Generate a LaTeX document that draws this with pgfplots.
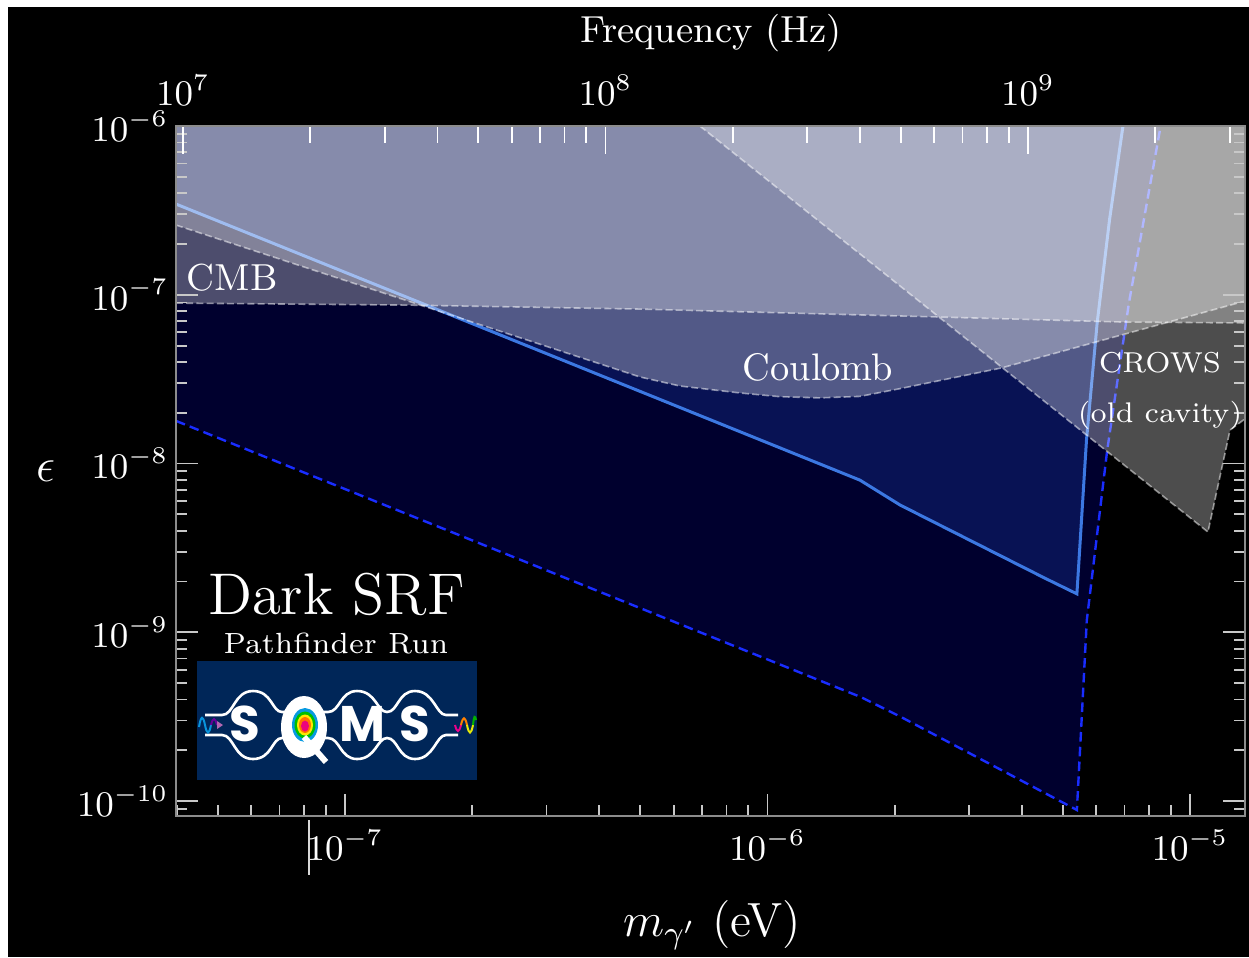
\documentclass[border=0pt]{standalone}
\usepackage{fontspec}
\usepackage{pgfplots}
\pgfplotsset{compat=1.18}
\newfontfamily\logofont{Poppins}
\definecolor{navyproj}{RGB}{0,0,46}
\definecolor{bluereg}{RGB}{8,18,84}
\definecolor{solidline}{RGB}{60,120,226}
\definecolor{dashblue}{RGB}{25,45,255}
\definecolor{logobg}{RGB}{0,38,88}
\definecolor{tickgray}{RGB}{200,200,200}
\definecolor{framegray}{RGB}{140,140,140}
\begin{document}
\begin{tikzpicture}
\fill[white] (0,0) rectangle (312.25pt,239.25pt);
\fill[black] (2pt,0) rectangle (312.25pt,237.5pt);
\begin{axis}[
  at={(44pt,35.25pt)}, anchor=south west,
  scale only axis, width=267.25pt, height=172.5pt,
  xmode=log, ymode=log,
  xmin=3.981e-8, xmax=1.3497e-5, ymin=8.15e-11, ymax=1e-6,
  axis on top,
  axis line style={draw=framegray, line width=0.5pt},
  xtick pos=left, ytick pos=both, yticklabel pos=left,
  tick align=inside,
  major tick length=5.5pt, minor tick length=2.8pt,
  tick style={draw=tickgray, line width=0.45pt},
  ticklabel style={font=\fontsize{9}{11}\selectfont, text=white},
  yticklabel style={xshift=1.6pt},
]
% projected sensitivity region (dashed boundary)
\addplot[fill=navyproj, draw=none] coordinates {
  (3.981e-8,1.79e-8) (1.664e-6,4.13e-10) (2.07e-6,3.15e-10)
  (5.40e-6,8.85e-11) (5.70e-6,1.18e-9) (6.37e-6,1.2e-8) (7.17e-6,8.93e-8)
  (8.49e-6,9.47e-7) (8.55e-6,1.1e-6) (3.5e-8,1.1e-6) } -- cycle;
% excluded region (solid boundary)
\addplot[fill=bluereg, draw=none] coordinates {
  (3.981e-8,3.45e-7) (1.655e-6,7.98e-9) (2.06e-6,5.68e-9) (4.54e-6,2.09e-9)
  (5.40e-6,1.69e-9) (5.69e-6,1.38e-8) (6.03e-6,6.81e-8) (6.45e-6,2.77e-7)
  (6.94e-6,1e-6) (6.96e-6,1.1e-6) (3.5e-8,1.1e-6) } -- cycle;
\addplot[draw=solidline, line width=0.75pt] coordinates {
  (3.981e-8,3.45e-7) (1.655e-6,7.98e-9) (2.06e-6,5.68e-9) (4.54e-6,2.09e-9)
  (5.40e-6,1.69e-9) (5.69e-6,1.38e-8) (6.03e-6,6.81e-8) (6.45e-6,2.77e-7)
  (6.94e-6,1e-6) };
\addplot[draw=dashblue, line width=0.6pt, dash pattern=on 2.4pt off 1.3pt] coordinates {
  (3.981e-8,1.79e-8) (1.664e-6,4.13e-10) (2.07e-6,3.15e-10)
  (5.40e-6,8.85e-11) (5.70e-6,1.18e-9) (6.37e-6,1.2e-8) (7.17e-6,8.93e-8)
  (8.49e-6,9.47e-7) (8.55e-6,1e-6) };
% CMB
\addplot[fill=white, fill opacity=0.3, draw=none] coordinates {
  (3.981e-8,8.93e-8) (1.41e-7,8.69e-8) (4.99e-7,8.23e-8) (2.58e-6,7.38e-8)
  (6.87e-6,6.90e-8) (1.3497e-5,6.81e-8) (1.3497e-5,1e-6) (3.981e-8,1e-6) } -- cycle;
\addplot[draw=white, draw opacity=0.5, line width=0.4pt, dash pattern=on 1.75pt off 0.8pt] coordinates {
  (3.981e-8,8.93e-8) (1.41e-7,8.69e-8) (4.99e-7,8.23e-8) (2.58e-6,7.38e-8)
  (6.87e-6,6.90e-8) (1.3497e-5,6.81e-8) };
% Coulomb
\addplot[fill=white, fill opacity=0.3, draw=none] coordinates {
  (3.981e-8,2.59e-7) (4.99e-7,3.26e-8) (6.21e-7,2.88e-8) (8.61e-7,2.62e-8)
  (1.07e-6,2.49e-8) (1.33e-6,2.45e-8) (1.655e-6,2.50e-8) (2.06e-6,2.78e-8)
  (3.57e-6,3.68e-8) (1.3497e-5,9.18e-8) (1.3497e-5,1e-6) (3.981e-8,1e-6) } -- cycle;
\addplot[draw=white, draw opacity=0.5, line width=0.4pt, dash pattern=on 1.75pt off 0.8pt] coordinates {
  (3.981e-8,2.59e-7) (4.99e-7,3.26e-8) (6.21e-7,2.88e-8) (8.61e-7,2.62e-8)
  (1.07e-6,2.49e-8) (1.33e-6,2.45e-8) (1.655e-6,2.50e-8) (2.06e-6,2.78e-8)
  (3.57e-6,3.68e-8) (1.3497e-5,9.18e-8) };
% CROWS
\addplot[fill=white, fill opacity=0.3, draw=none] coordinates {
  (6.92e-7,1e-6) (1.103e-5,3.93e-9) (1.244e-5,1.58e-8) (1.3497e-5,1.84e-8)
  (1.3497e-5,1e-6) } -- cycle;
\addplot[draw=white, draw opacity=0.5, line width=0.4pt, dash pattern=on 1.75pt off 0.8pt] coordinates {
  (6.92e-7,1e-6) (1.103e-5,3.93e-9) (1.244e-5,1.58e-8) (1.3497e-5,1.84e-8) };
\end{axis}
\begin{axis}[
  at={(44pt,35.25pt)}, anchor=south west,
  scale only axis, width=267.25pt, height=172.5pt,
  xmode=log, xmin=9.626e6, xmax=3.2636e9, ymin=0, ymax=1,
  axis x line*=top, hide y axis,
  x axis line style={draw=framegray, -},
  xtick align=inside,
  major tick length=7pt, minor tick length=4.3pt,
  tick style={draw=white, line width=0.45pt},
  xticklabel style={font=\fontsize{9}{11}\selectfont, text=white, yshift=1.6pt},
]
\addplot[draw=none] coordinates {(1e8,0.5)};
\end{axis}
\begin{scope}[shift={(0pt,239.25pt)},x=0.25pt,y=-0.25pt]
% axis titles
\node[text=white, font=\fontsize{9.4}{11}\selectfont, anchor=base, inner sep=0] at (711,42) {Frequency (Hz)};
\node[text=white, font=\fontsize{12}{14}\selectfont, anchor=base, inner sep=0] at (712,936) {$m_{\gamma'}$ (eV)};
\node[text=white, font=\fontsize{12}{14}\selectfont, inner sep=0] at (46,471) {$\epsilon$};
\draw[white!85!black, line width=0.3pt] (309,820) -- (309,875);
% region labels
\node[text=white, font=\fontsize{9.4}{11}\selectfont, anchor=base west, inner sep=0] at (186,290) {CMB};
\node[text=white, font=\fontsize{9.6}{11}\selectfont, anchor=base west, inner sep=0] at (742,380) {Coulomb};
\node[text=white, font=\fontsize{7.2}{9}\selectfont, anchor=base, inner sep=0] at (1160,372) {CROWS};
\node[text=white, font=\fontsize{7.1}{9}\selectfont, anchor=base, inner sep=0] at (1160,422) {(old cavity)};
\node[text=white, font=\fontsize{14.7}{17}\selectfont, anchor=base, inner sep=0] at (336.5,614) {Dark SRF};
\node[text=white, font=\fontsize{7.3}{9}\selectfont, anchor=base, inner sep=0] at (336,653) {Pathfinder Run};
% SQMS logo
\fill[logobg] (197,661) rectangle (477,780);
\draw[white, line width=0.65pt] (205,715) -- (222,715) .. controls (234,715) and (234,691) .. (253,691)
  .. controls (272,691) and (272,712) .. (282,712) -- (328,712)
  .. controls (340,712) and (340,691) .. (357,691) .. controls (376,691) and (377,712) .. (387,712)
  .. controls (398,712) and (398,691) .. (415,691) .. controls (434,691) and (436,715) .. (446,715) -- (458,715);
\draw[white, line width=0.65pt] (205,735) -- (222,735) .. controls (234,735) and (234,759) .. (253,759)
  .. controls (272,759) and (272,738) .. (282,738) -- (328,738)
  .. controls (340,738) and (340,759) .. (357,759) .. controls (376,759) and (377,738) .. (387,738)
  .. controls (398,738) and (398,759) .. (415,759) .. controls (434,759) and (436,735) .. (446,735) -- (458,735);
\fill[logobg] (230,716.5) rectangle (260,733.5);
\fill[logobg] (345,716.5) rectangle (379,733.5);
\fill[logobg] (400,716.5) rectangle (430,733.5);
\fill[white] (304,727) ellipse [x radius=23, y radius=31];
\fill[cyan!85!blue] (305,725) ellipse [x radius=13, y radius=17];
\fill[green!75!black] (305,725) ellipse [x radius=10.5, y radius=13.5];
\fill[yellow!90!orange] (305,725) ellipse [x radius=8, y radius=10.5];
\fill[orange!90!red] (305,725) ellipse [x radius=6, y radius=8];
\fill[magenta!85!red] (305,726) ellipse [x radius=4, y radius=5.5];
\draw[white, line width=1.5pt] (304,737) -- (326,762);
\node[text=white, font=\logofont\bfseries\fontsize{12.5}{14}\selectfont, inner sep=0] at (245,724) {S};
\node[text=white, font=\logofont\bfseries\fontsize{12.5}{14}\selectfont, inner sep=0] at (362,724) {M};
\node[text=white, font=\logofont\bfseries\fontsize{12.5}{14}\selectfont, inner sep=0] at (415,724) {S};
\draw[cyan!80!blue, line width=0.5pt] (199,727) .. controls (201,715) and (203,715) .. (205,725)
  .. controls (207,735) and (209,735) .. (211,725);
\draw[violet!80!blue, line width=0.5pt] (211,725) .. controls (213,717) and (215,717) .. (217,725);
\fill[violet!60!white] (217,721) -- (223,725) -- (217,729) -- cycle;
\draw[magenta, line width=0.5pt] (455,725) .. controls (457,733) and (459,733) .. (461,725);
\draw[orange, line width=0.5pt] (461,725) .. controls (463,716) and (465,716) .. (467,725);
\draw[yellow!90!green, line width=0.5pt] (467,725) .. controls (469,735) and (471,735) .. (473,725);
\draw[green!70!black, line width=0.5pt] (473,725) .. controls (474,715) and (475,715) .. (476,720);
\end{scope}
\pgfresetboundingbox
\path[use as bounding box] (0,0) rectangle (312.25pt,239.25pt);
\end{tikzpicture}
\end{document}
